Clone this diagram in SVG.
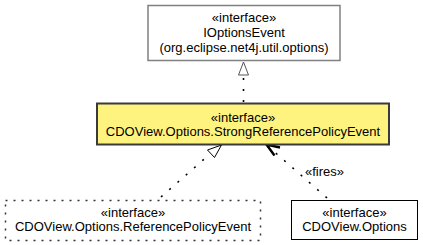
<svg xmlns="http://www.w3.org/2000/svg" width="423" height="245" viewBox="0 0 423 245">
  <style>
    text { font-family: "Liberation Sans", Arial, sans-serif; font-size: 13px; fill: #000; text-anchor: middle; }
    .box { fill: #fff; stroke: #000; stroke-width: 1; }
    .grey { fill: #fff; stroke: #808080; stroke-width: 1.5; }
    .focus { fill: #fff380; stroke: #3a3a3a; stroke-width: 2; }
    .dotbox { fill: #fff; stroke: #333; stroke-width: 1.5; stroke-dasharray: 2 6; }
    .dep { fill: none; stroke: #000; stroke-width: 1.6; stroke-dasharray: 2 9; }
    .hollow { fill: #fff; stroke: #000; stroke-width: 1; }
    .hollow-grey { fill: #fff; stroke: #555; stroke-width: 1; }
    .open { fill: none; stroke: #000; stroke-width: 2.4; }
  </style>
  <rect width="423" height="245" fill="#fff"/>

  <g id="connectors">
    <!-- realization: StrongReferencePolicyEvent -> IOptionsEvent -->
    <line class="dep" x1="243.5" y1="102" x2="243.5" y2="77"/>
    <polygon class="hollow-grey" points="243.5,62 238.5,75 248.5,75"/>
    <!-- realization: ReferencePolicyEvent -> StrongReferencePolicyEvent -->
    <line class="dep" x1="161" y1="197" x2="210" y2="154"/>
    <polygon class="hollow" points="221.5,145 207.5,150 214.5,157.5"/>
    <!-- «fires» dependency: CDOView.Options -> StrongReferencePolicyEvent -->
    <line class="dep" x1="327" y1="198" x2="270" y2="148"/>
    <polyline class="open" points="280,147.5 266.5,144.5 274.5,155.5"/>
    <text x="305" y="176" style="text-anchor:start">«fires»</text>
  </g>

  <g id="node-ioptionsevent">
    <rect class="grey" x="148" y="5.5" width="192" height="55"/>
    <text x="244" y="22">«interface»</text>
    <text x="244" y="37">IOptionsEvent</text>
    <text x="244" y="52">(org.eclipse.net4j.util.options)</text>
  </g>

  <g id="node-strongreferencepolicyevent">
    <rect class="focus" x="97" y="103.5" width="292" height="41"/>
    <text x="243" y="122">«interface»</text>
    <text x="243" y="136">CDOView.Options.StrongReferencePolicyEvent</text>
  </g>

  <g id="node-referencepolicyevent">
    <rect class="dotbox" x="5.5" y="200.5" width="255" height="40"/>
    <text x="133" y="217">«interface»</text>
    <text x="133" y="231">CDOView.Options.ReferencePolicyEvent</text>
  </g>

  <g id="node-options">
    <rect class="box" x="291.5" y="200.5" width="126" height="39"/>
    <text x="354.5" y="217">«interface»</text>
    <text x="354.5" y="231">CDOView.Options</text>
  </g>
</svg>
